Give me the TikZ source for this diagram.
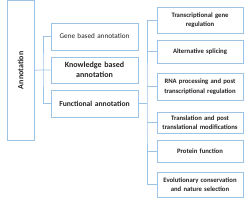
\documentclass[tikz,border=0pt]{standalone}
\usepackage{fontspec}
\setmainfont{Carlito}
\usepackage{tikz}
\usetikzlibrary{positioning, calc}
\definecolor{boxblue}{RGB}{157, 195, 230}
\definecolor{textdark}{RGB}{35, 35, 35}

\begin{document}
\begin{tikzpicture}[x=1pt, y=-1pt,
    annobox/.style={draw=boxblue, line width=0.7pt, inner sep=1pt, align=center, text=textdark},
    leftbox/.style={annobox, minimum width=87pt, text width=85pt},
    rightbox/.style={annobox, minimum width=86pt, text width=84pt,
        font=\fontsize{6.7}{9.5}\selectfont\bfseries},
    link/.style={draw=boxblue, line width=0.7pt}]
    \useasboundingbox (0,0) rectangle (250,203);

    % root
    \node[annobox, minimum width=27pt, minimum height=139.5pt] (annot) at (20.5,70.25) {};
    \node[rotate=90, font=\fontsize{8}{9}\selectfont\bfseries, text=textdark] (annotlabel) at (annot.center) {Annotation};

    % first level
    \node[leftbox, minimum height=27pt, font=\fontsize{7.2}{9}\selectfont] (gene) at (94.5,36.5) {Gene based annotation};
    \node[leftbox, minimum height=26pt, font=\fontsize{8}{10}\selectfont\bfseries] (know) at (94.5,70) {Knowledge based\\annotation};
    \node[leftbox, minimum height=27pt, font=\fontsize{7.6}{9}\selectfont\bfseries] (func) at (94.5,103.5) {Functional annotation};

    % second level
    \node[rightbox, minimum height=26pt] (trans) at (200,20) {Transcriptional gene\\regulation};
    \node[rightbox, minimum height=23pt] (splice) at (200,51.5) {Alternative splicing};
    \node[rightbox, minimum height=27pt] (rna) at (200,86.5) {RNA processing and post\\transcriptional regulation};
    \node[rightbox, minimum height=21pt] (transl) at (200,122.5) {Translation and post\\translational modifications};
    \node[rightbox, minimum height=22pt] (prot) at (200,151) {Protein function};
    \node[rightbox, minimum height=25pt] (evol) at (200,184.5) {Evolutionary conservation\\and nature selection};

    % connectors
    \coordinate (jleft) at (43,70);
    \coordinate (jright) at (147,103.5);
    \draw[link] (annot.east) -- (jleft) -- (know.west);
    \draw[link] (gene.west) -| (jleft) |- (func.west);
    \draw[link] (func.east) -- (jright);
    \draw[link] (trans.west) -| (jright) |- (evol.west);
    \foreach \n in {splice, rna, transl, prot}
        \draw[link] (jright |- \n.west) -- (\n.west);
\end{tikzpicture}
\end{document}
